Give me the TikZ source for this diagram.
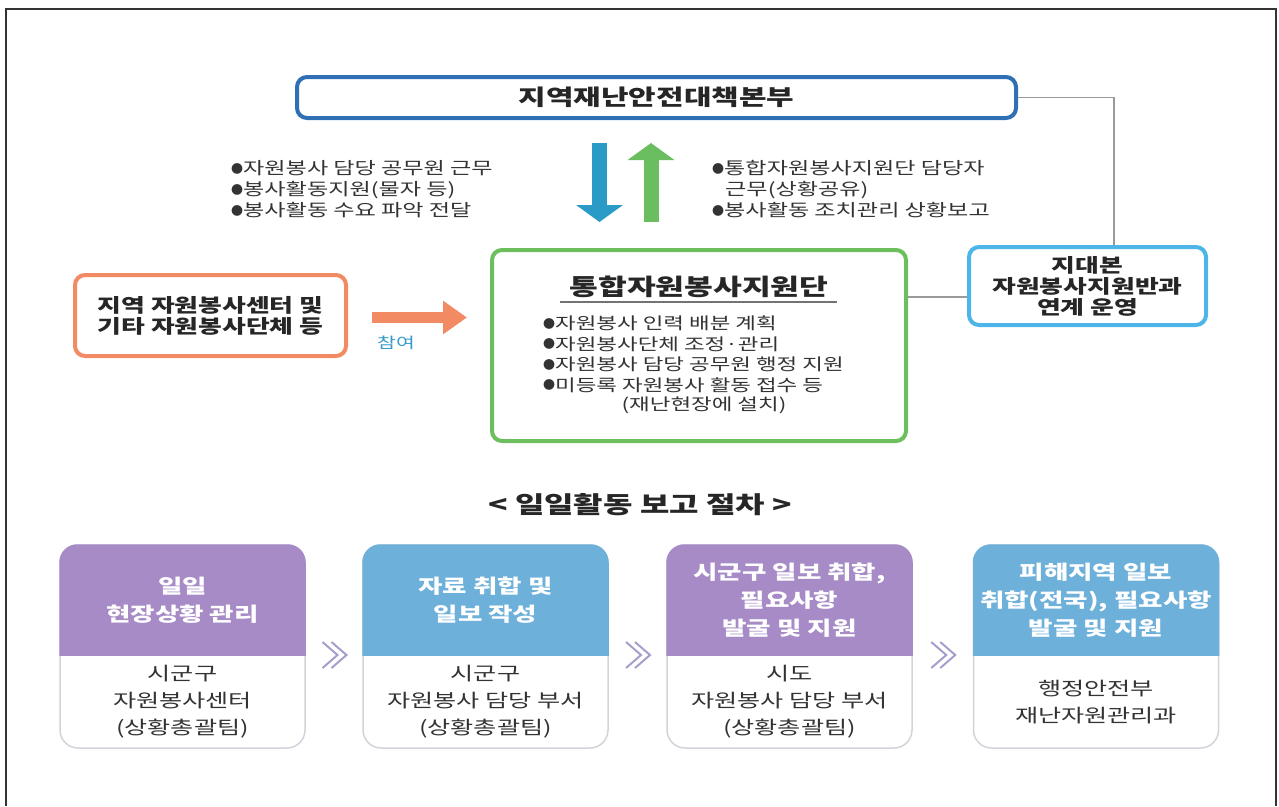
\documentclass[tikz,border=0pt]{standalone}
\usepackage{fontspec}
\setmainfont{Noto Sans CJK KR}[FakeStretch=1.36]
\newfontfamily\dotfont{Noto Sans CJK KR}
\newcommand\dotb{\raisebox{1.8pt}{\dotfont\fontsize{12}{12}\selectfont ●}}
\usetikzlibrary{arrows.meta,calc}
\definecolor{topblue}{HTML}{2F6FB3}
\definecolor{skyblue}{HTML}{4DB5E8}
\definecolor{orng}{HTML}{F28B63}
\definecolor{grn}{HTML}{6DBE5D}
\definecolor{darr}{HTML}{2A9AC6}
\definecolor{uarr}{HTML}{6BBE60}
\definecolor{hdrP}{HTML}{A68BC6}
\definecolor{hdrB}{HTML}{6DB0DA}
\definecolor{txt}{HTML}{333333}
\definecolor{connc}{HTML}{9A9A9A}
\definecolor{chevc}{HTML}{A3A0CC}
\definecolor{cardline}{HTML}{D4D3DC}
\definecolor{sam}{HTML}{3399CC}
\newcommand\mkcardhead[2]{%
  \begin{scope}
    \clip ($(#1.north west)+(-2,-2)$) rectangle ($(#1.east |- hy)+(2,0)$);
    \fill[#2, rounded corners=18pt] (#1.north west) rectangle (#1.south east);
  \end{scope}}
\newcommand\mkchev[1]{%
  \draw[chev] ($(#1)+(-11.5,-13)$) -- ($(#1)+(3.5,0)$) -- ($(#1)+(-11.5,13)$);
  \draw[chev] ($(#1)+(-2.5,-13)$) -- ($(#1)+(12.5,0)$) -- ($(#1)+(-2.5,13)$);}
\begin{document}
\begin{tikzpicture}[x=1pt,y=-1pt,
  box/.style={draw, line width=4pt, rounded corners=10pt, fill=white, inner sep=0pt, align=center, text=txt},
  frameline/.style={draw=black!80, line width=1.5pt},
  conn/.style={draw=connc, line width=1.2pt},
  blkarrow/.style={line width=15pt, -{Triangle[length=17pt,width=46pt]}},
  oarrow/.style={draw=orng, line width=11pt, -{Triangle[length=24pt,width=32pt]}, orng},
  ttl/.style={font=\bfseries\fontsize{22}{26}\selectfont, text=black!85},
  boxtxt/.style={font=\bfseries\fontsize{19}{21}\selectfont, text=black!85, align=center},
  bul/.style={font=\fontsize{17}{21}\selectfont, text=txt, align=left, inner sep=0pt},
  gbul/.style={font=\fontsize{16.5}{20.5}\selectfont, text=txt, align=left, inner sep=0pt},
  card/.style={draw=cardline, line width=1.5pt, fill=white, rounded corners=18pt, minimum width=245pt, minimum height=203pt, inner sep=0pt},
  htext/.style={font=\bfseries\fontsize{19.5}{28}\selectfont, text=white, align=center},
  ctext/.style={font=\fontsize{18.5}{27}\selectfont, text=txt, align=center},
  chev/.style={draw=chevc, line width=2pt},
]
\useasboundingbox (0,0) rectangle (1279,806);
\draw[frameline] (6,806) -- (6,9) -- (1276,9) -- (1276,806);

% main boxes
\node[box, draw=topblue, minimum width=719pt, minimum height=41pt, ttl] (top) at (656.5,97.5) {지역재난안전대책본부};
\node[box, draw=skyblue, minimum width=237pt, minimum height=78pt, boxtxt] (jidae) at (1087.5,286) {지대본\\자원봉사지원반과\\연계 운영};
\node[box, draw=orng, minimum width=271pt, minimum height=81pt, boxtxt] (orange) at (210.5,315.5) {지역 자원봉사센터 및\\기타 자원봉사단체 등};
\node[box, draw=grn, minimum width=414pt, minimum height=191pt] (green) at (699,345.5) {};

% green box content
\node[font=\bfseries\fontsize{23}{26}\selectfont, text=black!85] (gtitle) at (699,287) {통합자원봉사지원단};
\draw[draw=black!55, line width=1.5pt] ($(gtitle.center)+(-139,15)$) -- ($(gtitle.center)+(138,15)$);
\node[gbul, anchor=west] (glist) at (543,354.5) {\dotb{}자원봉사 인력 배분 계획\\\dotb{}자원봉사단체 조정·관리\\\dotb{}자원봉사 담당 공무원 행정 지원\\\dotb{}미등록 자원봉사 활동 접수 등};
\node[gbul] (gnote) at (704,405) {(재난현장에 설치)};

% side texts
\node[bul, anchor=west] (ltext) at (231,189.5) {\dotb{}자원봉사 담당 공무원 근무\\\dotb{}봉사활동지원(물자 등)\\\dotb{}봉사활동 수요 파악 전달};
\node[bul, anchor=west] (rtext) at (712,189.5) {\dotb{}통합자원봉사지원단 담당자\\\hspace{13pt}근무(상황공유)\\\dotb{}봉사활동 조치관리 상황보고};

% connectors
\coordinate (jx) at (1114,0);
\draw[conn] (top.east) -| (jx |- jidae.north);
\coordinate (gy) at (0,297);
\draw[conn] (green.east |- gy) -- (jidae.west |- gy);

\coordinate (dax) at (599.5,0);
\coordinate (uax) at (651,0);
\draw[blkarrow, darr, shorten <=23pt, shorten >=26pt] (top.south -| dax) -- (green.north -| dax);
\draw[blkarrow, uarr, shorten <=26pt, shorten >=23pt] (green.north -| uax) -- (top.south -| uax);

\coordinate (oay) at (0,317.5);
\draw[oarrow, shorten <=24pt, shorten >=23pt] (orange.east |- oay) -- (green.west |- oay);
\node[font=\fontsize{15}{18}\selectfont, text=sam] (join) at (396,343) {참여};

% section title
\node[font=\bfseries\fontsize{23.5}{28}\selectfont, text=black!85] (sect) at (640,505) {< 일일활동 보고 절차 >};

% cards
\coordinate (hy) at (0,655);
\node[card] (c1) at (182.5,646.5) {};
\node[card] (c2) at (485.5,646.5) {};
\node[card] (c3) at (789.5,646.5) {};
\node[card] (c4) at (1096,646.5) {};
\mkcardhead{c1}{hdrP}
\mkcardhead{c2}{hdrB}
\mkcardhead{c3}{hdrP}
\mkcardhead{c4}{hdrB}

\node[htext] (h1) at ($(c1.north)+(0,56)$) {일일\\현장상황 관리};
\node[htext] (h2) at ($(c2.north)+(0,56)$) {자료 취합 및\\일보 작성};
\node[htext] (h3) at ($(c3.north)+(0,56)$) {시군구 일보 취합,\\필요사항\\발굴 및 지원};
\node[htext] (h4) at ($(c4.north)+(0,56)$) {피해지역 일보\\취합(전국), 필요사항\\발굴 및 지원};

\node[ctext] (b1) at ($(c1.south)+(0,-47)$) {시군구\\자원봉사센터\\(상황총괄팀)};
\node[ctext] (b2) at ($(c2.south)+(0,-47)$) {시군구\\자원봉사 담당 부서\\(상황총괄팀)};
\node[ctext] (b3) at ($(c3.south)+(0,-47)$) {시도\\자원봉사 담당 부서\\(상황총괄팀)};
\node[ctext] (b4) at ($(c4.south)+(0,-47)$) {행정안전부\\재난자원관리과};

\path ($(c1.east)!0.5!(c2.west)$) ++(0,8.5) coordinate (v1);
\path ($(c2.east)!0.5!(c3.west)$) ++(0,8.5) coordinate (v2);
\path ($(c3.east)!0.5!(c4.west)$) ++(0,8.5) coordinate (v3);
\mkchev{v1}
\mkchev{v2}
\mkchev{v3}
\end{tikzpicture}
\end{document}
